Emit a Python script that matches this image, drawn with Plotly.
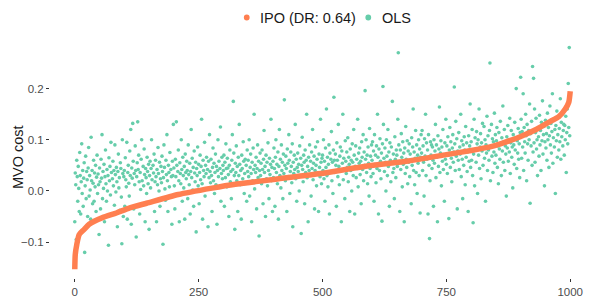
import plotly.graph_objects as go

# IPO (sorted) curve, read at knots along the index axis
ipo_x = [0, 1, 4, 9, 19, 29, 56, 84, 111, 145, 209, 277, 324, 405, 496, 578,
         669, 750, 800, 842, 865, 899, 933, 960, 977, 990, 997, 1000]
ipo_y = [-0.153, -0.124, -0.105, -0.085, -0.075, -0.065, -0.052, -0.043, -0.033,
         -0.024, -0.007, 0.0055, 0.013, 0.023, 0.034, 0.047, 0.058, 0.071, 0.079,
         0.087, 0.094, 0.106, 0.121, 0.136, 0.145, 0.160, 0.173, 0.195]

# OLS cost per instance (in thousandths)
ols_milli = [
    -60, 35, 12, -95, 60, 28, -20, 48, 5, -40, 75, 30, -45, 18, 92, -5, 40, -30, 25, 55, -120, 10, 68, -15, 38,
    22, -50, 45, 85, -10, 30, 2, -55, 105, 20, 40, -25, 15, 60, -20, 35, 8, 50, -40, 27, 70, -5, 33, 12, -85,
    45, 18, -35, 62, 25, 110, -15, 38, 5, 52, -60, 28, 80, 14, -20, 42, 0, 30, -106, 65, 20, 48, -8, 95, 36,
    -45, 24, 58, 10, 40, -28, 90, 32, -2, 46, 18, -70, 38, 72, 6, 26, -38, 55, 44, -12, -103, 100, 34, -50, 28,
    40, -30, 65, 22, 8, 95, -55, 36, 50, 15, -10, 78, 30, 120, -65, 45, 25, 132, 58, -35, 34, 12, 88, 40, -90,
    28, 55, 135, 42, 70, 18, -45, 36, 3, 62, 100, 20, -25, 48, 10, 82, 32, -60, 44, 26, -5, 66, 38, 14, 52,
    -75, 30, 58, 6, 44, 100, 22, -20, 50, 35, 72, -40, 18, 60, 28, -60, 42, 12, 85, 34, 0, 56, -30, 24, 48,
    16, 68, 38, -104, 26, 90, 46, 4, -18, 60, 32, 110, 20, -40, 50, 36, 8, 75, -12, 42, 28, -65, 58, 30, 130,
    45, 10, -35, 62, 28, 135, 50, -8, 38, 80, 20, -60, 55, 34, 14, 100, 42, -20, 66, 30, 6, 48, -55, 72, 36,
    24, 58, 40, -15, 90, 32, 12, 54, -45, 38, 120, 26, 64, 2, 46, -30, 78, 35, 18, 56, -80, 44, 30, 86, 10,
    52, -25, 36, 70, 22, 48, 140, 14, -55, 60, 40, 28, 95, -10, 50, 34, 66, 4, 42, -70, 58, 26, 110, 38, 16,
    62, 30, -40, 46, 84, 20, 54, -5, 36, 72, 12, 48, -65, 40, 100, 28, 58, 8, 44, 125, -20, 34, 66, 24, 50,
    40, 70, -30, 56, 26, 92, 44, 8, 64, 45, 32, -50, 50, 80, 18, 38, -15, 60, 110, 42, 175, 74, 30, -75, 54,
    36, 88, 20, 48, -40, 66, 30, 130, 52, 12, 40, -55, 70, 44, 24, 96, 58, -5, 34, 62, 16, 50, -20, 80, 38,
    60, 28, 100, -10, 46, 72, 34, -60, 56, 20, 84, 42, 150, 4, 50, 36, 66, -35, 44, 90, 26, 58, -88, 40, 74,
    30, 54, 14, 80, 42, -25, 62, 118, 36, 48, -50, 70, 24, 56, 10, 94, 40, -15, 64, 32, 52, 140, 20, 46, -40,
    58, 26, 84, 44, -30, 66, 100, 36, 52, 14, 76, -55, 48, 120, 30, 62, 6, 90, 40, 56, -15, 72, 34, 178, 50,
    20, 68, 44, -40, 82, 54, 28, 110, 60, -5, 38, 76, 48, 16, 92, -70, 56, 34, 70, 42, 130, 24, 62, -20, 46,
    74, 38, 52, 0, 88, 30, 64, -83, 50, 105, 42, 18, 70, 56, -25, 80, 36, 60, 150, 26, 48, -60, 66, 40, 90,
    32, 58, -10, 76, 44, 120, 22, 54, 68, -35, 40, 86, 50, 10, 62, 96, 36, -40, 72, 46, 28, 140, 56, 14, 64,
    70, 40, 100, 24, 58, -20, 84, 46, 160, 30, 66, 8, 52, 90, -45, 74, 38, 62, 116, 20, 56, -5, 80, 183, 60,
    36, 72, 50, -30, 94, 60, 28, 130, 48, 12, 68, 86, 40, -60, 78, 54, 150, 22, 64, 42, -15, 98, 58, 34, 76,
    46, 104, 18, 66, 52, -40, 82, 40, 60, 0, 92, 56, 30, 120, 70, -45, 48, 88, 26, 62, 44, 140, 8, 74, 54,
    84, 32, 58, -25, 96, 66, 42, 110, 20, 76, 50, 196, 62, 100, 36, 70, 14, 86, 54, -10, 122, 44, 68, 28, 90,
    60, 96, 34, 78, -20, 110, 52, 70, 16, 88, 44, 150, 66, -45, 82, 40, 102, 58, 24, 74, -59, 92, 204, 130, 64,
    38, 84, 56, 0, 100, 68, 30, 120, 48, 76, -30, 94, 60, 18, 86, 54, 175, 36, 72, 44, -15, 106, 62, 26, 80,
    70, 48, 140, 270, 90, 58, -40, 80, 42, 112, 66, 8, 96, 52, 74, -60, 84, 34, 126, 62, 46, 98, 14, 78, 56,
    92, 28, 72, 60, -25, 104, 50, 86, 160, 40, 76, 12, 64, 118, 36, 90, -5, 70, 54, 100, 30, 82, -43, 66, 110,
    74, 118, 40, 88, 56, -10, 102, 68, 150, 30, 94, 62, 80, -45, 110, 50, -93, 20, 96, 70, 90, 44, 86, 60, -30,
    100, 54, 78, 130, 26, 90, 66, -60, 108, 48, 82, 164, 36, 74, 98, 10, 86, 58, 120, 42, 70, -20, 94, 62, 140,
    52, 88, 34, 106, 70, -54, 80, 124, 46, 96, 64, 18, 84, 110, 56, 76, 203, 92, 40, 136, 68, 102, -35, 78, 60,
    114, 42, 86, 72, 150, 28, 98, 62, -15, 90, 50, 106, 80, 12, 126, 66, 94, 38, 76, -40, 108, 58, 88, 170, 46,
    96, 60, 120, 30, -62, 72, 140, 10, 104, 82, 56, 116, 92, -5, 100, 70, 160, 44, 86, 112, 24, 94, 78, 132, 50,
    84, 126, 64, 100, -20, 90, 74, 146, 40, 108, 80, 60, 118, 250, 20, 86, 130, 68, 102, 36, 96, 76, 152, 54, 110,
    70, 98, 124, 46, 88, 14, 114, 82, 62, 136, 92, 30, 104, 78, 166, 56, 96, 120, 40, 88, 72, -10, 106, 84, 128,
    58, 100, 76, 142, 34, 94, 118, 66, 86, 6, 110, 90, 52, 134, 80, 104, 200, 44, 98, 74, 122, 62, 92, 26, 114,
    222, 140, 64, 116, 86, 190, 40, 124, 96, 74, 150, 108, 20, 130, 92, 60, 118, 100, 170, -24, 112, 88, 136, 50, 243,
    76, 220, 94, 160, 56, 114, 142, 82, 100, 30, 122, 106, 68, 148, 90, 118, 40, 134, 98, 176, 72, 110, 126, 10, 96,
    138, 84, 112, 60, 152, 100, 124, 46, 108, 166, 90, 132, 74, 116, 190, 54, 104, 140, 86, 120, -5, 128, 98, 156, 66,
    110, 144, 80, 122, 96, 180, 62, 134, 106, 150, 88, 118, 130, 70, 128, 100, 146, 36, 114, 160, 92, 210, 124, 280, 108,
]

ols_x = list(range(len(ols_milli)))
ols_y = [v / 1000 for v in ols_milli]

x_tick_vals = [0, 250, 500, 750, 1000]
x_tick_text = ["0", "250", "500", "750", "1000"]
y_tick_vals = [-0.1, 0.0, 0.1, 0.2]
y_tick_text = ["\u22120.1", "0.0", "0.1", "0.2"]

series_names = ["IPO (DR: 0.64)", "OLS"]
IPO_COLOR = "#FF7F50"
OLS_COLOR = "#66CDAA"
FONT = "Liberation Sans, Arial, sans-serif"

fig = go.Figure()
fig.add_trace(go.Scatter(x=ols_x, y=ols_y, mode="markers", showlegend=False,
                         marker=dict(color=OLS_COLOR, size=3.6, line=dict(width=0)),
                         name=series_names[1]))
fig.add_trace(go.Scatter(x=ipo_x, y=ipo_y, mode="lines", showlegend=False,
                         line=dict(color=IPO_COLOR, width=5.5, shape="spline", smoothing=0.6),
                         name=series_names[0]))

# legend drawn by hand (ggplot style: dot + label, centred on top)
legend_items = [(series_names[0], IPO_COLOR, 0.361, 0.382),
                (series_names[1], OLS_COLOR, 0.584, 0.6055)]
for label, col, xdot, xtxt in legend_items:
    fig.add_shape(type="circle", xref="paper", yref="paper",
                  xsizemode="pixel", ysizemode="pixel",
                  xanchor=xdot, yanchor=1.0764, x0=-2.9, x1=2.9, y0=-2.9, y1=2.9,
                  fillcolor=col, line=dict(width=0))
    fig.add_annotation(text=label, xref="paper", yref="paper", x=xtxt, y=1.0764,
                       xanchor="left", yanchor="middle", showarrow=False,
                       font=dict(size=14.5, color="#1A1A1A", family=FONT))

fig.add_annotation(text="MVO cost", xref="paper", yref="paper", x=-0.0587, y=0.5,
                   xanchor="center", yanchor="middle", textangle=-90, showarrow=False,
                   font=dict(size=14.5, color="#1A1A1A", family=FONT))

fig.update_layout(
    width=598, height=299,
    margin=dict(l=50, r=3, t=36, b=21, autoexpand=False),
    paper_bgcolor="white", plot_bgcolor="white",
    showlegend=False,
    font=dict(family=FONT, color="#4D4D4D", size=11.5),
    xaxis=dict(range=[-50, 1050], showgrid=False, zeroline=False, showline=False,
               tickvals=x_tick_vals, ticktext=x_tick_text, ticks="outside",
               ticklen=3, tickwidth=1, tickcolor="#333333",
               tickfont=dict(size=11.5, color="#4D4D4D")),
    yaxis=dict(range=[-0.170, 0.3027], showgrid=False, zeroline=False, showline=False,
               tickvals=y_tick_vals, ticktext=y_tick_text, ticks="outside",
               ticklen=3, tickwidth=1, tickcolor="#333333",
               tickfont=dict(size=11.5, color="#4D4D4D")),
)

fig.write_html("out.html", config={"displayModeBar": False},
               post_script="document.body.style.margin='0';document.body.style.overflow='hidden';")
